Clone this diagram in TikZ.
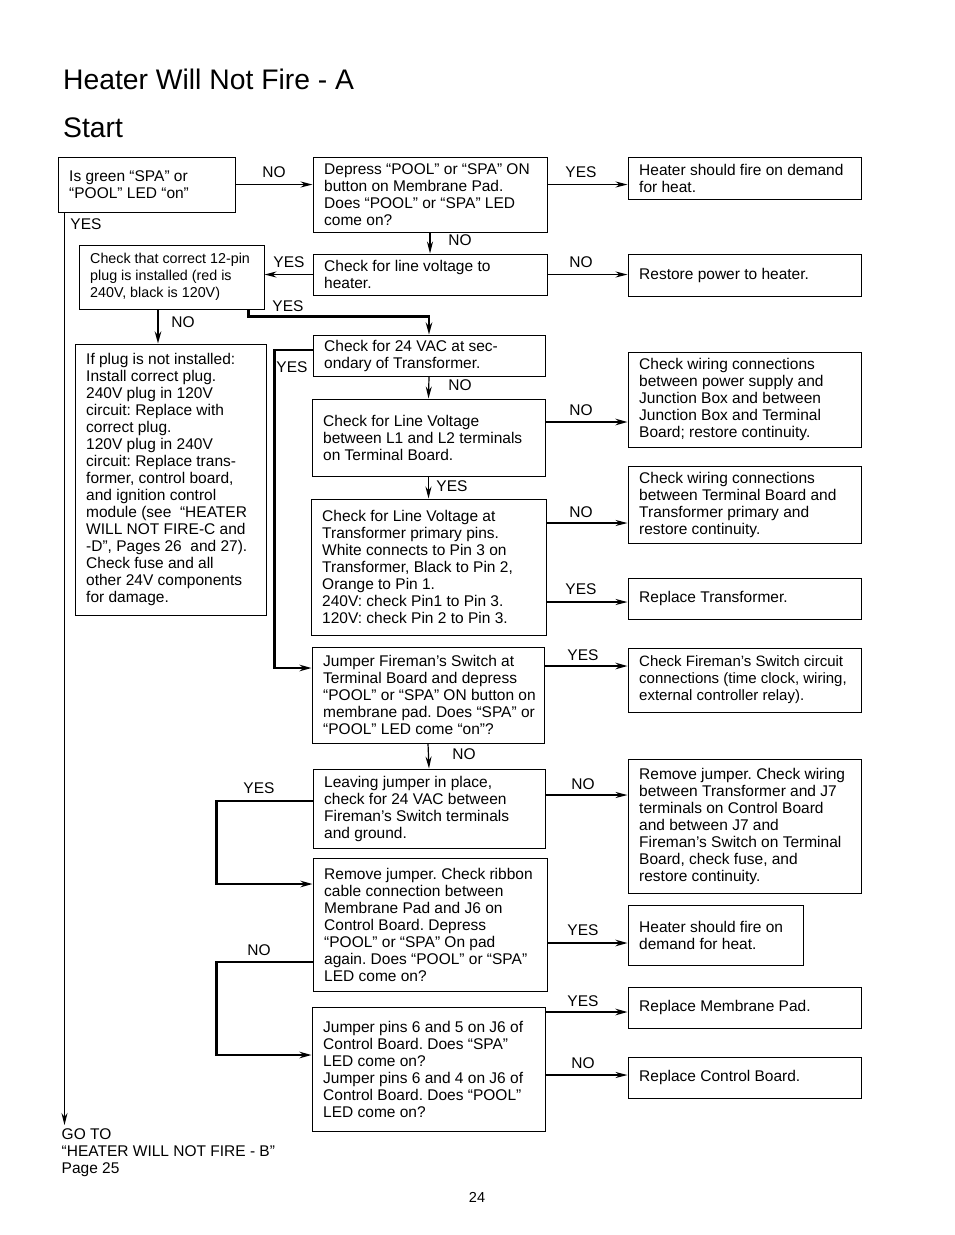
\documentclass[tikz,border=0pt]{standalone}
\usepackage{fontspec}
\setmainfont{Liberation Sans}
\usetikzlibrary{arrows.meta,calc}
\frenchspacing
\tikzset{
  box/.style={draw,line width=1pt,inner sep=0pt},
  txt/.style={align=left,inner sep=0pt,font=\fontsize{15.5}{17}\selectfont},
  lbl/.style={inner sep=0pt,font=\fontsize{15.5}{17}\selectfont},
  thinar/.style={line width=1.2pt,-{Stealth[length=12pt,width=6pt]}},
  thickar/.style={line width=2.4pt,-{Stealth[length=12pt,width=6.5pt]}},
}
% #1 text options, #2 name, #3 cx, #4 cy, #5 width, #6 height, #7 text
\newcommand\flowbox[7][]{%
  \node[box,minimum width=#5pt,minimum height=#6pt] (#2) at (#3,#4) {};
  \node[txt,anchor=west,#1] (#2t) at ([xshift=11.5pt]#2.west) {#7};}
\begin{document}
\begin{tikzpicture}[x=1pt,y=-1pt]
\fill[white] (0,0) rectangle (954,1235);
\useasboundingbox (0,0) rectangle (954,1235);

\node[anchor=base west,inner sep=0pt,font=\fontsize{28.3}{34}\selectfont] (title) at (63,89) {Heater Will Not Fire - A};
\node[anchor=base west,inner sep=0pt,font=\fontsize{28.3}{34}\selectfont] (start) at (63,137) {Start};

\flowbox{A}{146.5}{184.5}{177}{55}{Is green “SPA” or\\“POOL” LED “on”}
\flowbox{B}{430}{194.5}{234}{75}{Depress “POOL” or “SPA” ON\\button on Membrane Pad.\\Does “POOL” or “SPA” LED\\come on?}
\flowbox{C}{744.5}{178}{233}{42}{Heater should fire on demand\\for heat.}
\flowbox[font=\fontsize{14.3}{17}\selectfont]{D}{171.5}{277}{185}{64}{Check that correct 12-pin\\plug is installed (red is\\240V, black is 120V)}
\flowbox{E}{430}{274.5}{234}{41}{Check for line voltage to\\heater.}
\flowbox{F}{744.5}{275}{233}{42}{Restore power to heater.}
\flowbox{G}{170.5}{479.5}{191}{271}{If plug is not installed:\\Install correct plug.\\240V plug in 120V\\circuit: Replace with\\correct plug.\\120V plug in 240V\\circuit: Replace trans-\\former, control board,\\and ignition control\\module (see\ \ “HEATER\\WILL NOT FIRE-C and\\-D”, Pages 26\ \ and 27).\\Check fuse and all\\other 24V components\\for damage.}
\flowbox{H}{429}{355.5}{232}{41}{Check for 24 VAC at sec-\\ondary of Transformer.}
\flowbox{I}{428.5}{437.5}{233}{77}{Check for Line Voltage\\between L1 and L2 terminals\\on Terminal Board.}
\flowbox{J}{744.5}{399.5}{233}{95}{Check wiring connections\\between power supply and\\Junction Box and between\\Junction Box and Terminal\\Board; restore continuity.}
\flowbox{K}{428.5}{567}{235}{136}{Check for Line Voltage at\\Transformer primary pins.\\White connects to Pin 3 on\\Transformer, Black to Pin 2,\\Orange to Pin 1.\\240V: check Pin1 to Pin 3.\\120V: check Pin 2 to Pin 3.}
\flowbox{L}{744.5}{504.5}{233}{77}{Check wiring connections\\between Terminal Board and\\Transformer primary and\\restore continuity.}
\flowbox{M}{744.5}{598.5}{233}{41}{Replace Transformer.}
\flowbox{N}{428}{695}{232}{96}{Jumper Fireman’s Switch at\\Terminal Board and depress\\“POOL” or “SPA” ON button on\\membrane pad. Does “SPA” or\\“POOL” LED come “on”?}
\flowbox[font=\fontsize{15}{17}\selectfont]{O}{744.5}{680}{233}{64}{Check Fireman’s Switch circuit\\connections (time clock, wiring,\\external controller relay).}
\flowbox{P}{429}{808.5}{232}{79}{Leaving jumper in place,\\check for 24 VAC between\\Fireman’s Switch terminals\\and ground.}
\flowbox{Q}{744.5}{826}{233}{134}{Remove jumper. Check wiring\\between Transformer and J7\\terminals on Control Board\\and between J7 and\\Fireman’s Switch on Terminal\\Board, check fuse, and\\restore continuity.}
\flowbox{R}{430}{924.5}{234}{133}{Remove jumper. Check ribbon\\cable connection between\\Membrane Pad and J6 on\\Control Board. Depress\\“POOL” or “SPA” On pad\\again. Does “POOL” or “SPA”\\LED come on?}
\flowbox{S}{715.5}{935}{175}{60}{Heater should fire on\\demand for heat.}
\flowbox{T}{744.5}{1007.5}{233}{41}{Replace Membrane Pad.}
\flowbox{U}{428.5}{1069}{233}{124}{Jumper pins 6 and 5 on J6 of\\Control Board. Does “SPA”\\LED come on?\\Jumper pins 6 and 4 on J6 of\\Control Board. Does “POOL”\\LED come on?}
\flowbox{V}{744.5}{1077.5}{233}{41}{Replace Control Board.}

\node[txt,anchor=north west] (goto) at (61.5,1128) {GO TO\\“HEATER WILL NOT FIRE - B”\\Page 25};
\node[lbl,font=\fontsize{14.5}{17}\selectfont] (pg) at (477,1197) {24};

% connectors
\draw[thinar] (A.east) -- (A.east -| B.west);
\draw[thinar] (B.east |- A.east) -- (C.west |- A.east);
\draw[thinar] (B.south) -- (E.north);
\draw[thinar] (E.west) -- (E.west -| D.east);
\draw[thinar] (E.east) -- (E.east -| F.west);
\draw[thickar] ([xshift=-16pt]D.south east) -- ++(0,7) -| (H.north);
\draw[thickar] ([xshift=-13.5pt]D.south) -- ([xshift=-13.5pt]D.south |- G.north);
\draw[thinar] ([xshift=7pt]A.south west) -- ([xshift=7pt,yshift=3pt]A.south west |- goto.north);
\draw[thickar] (H.west |- 0,350) -- ++(-38,0) |- (N.west |- 0,668);
\draw[thinar] (H.south) -- (I.north);
\draw[thickar] (I.east |- 0,422) -- (J.west |- 0,422);
\draw[thinar] (I.south) -- (K.north);
\draw[thinar] (K.east |- 0,523) -- (L.west |- 0,523);
\draw[thinar] (K.east |- 0,602) -- (M.west |- 0,602);
\draw[thickar] (N.east |- 0,666) -- (O.west |- 0,666);
\draw[thinar] (N.south) -- (P.north);
\draw[thinar] (P.east |- 0,795) -- (Q.west |- 0,795);
\draw[thickar] (P.west |- 0,801) -- ++(-96,0) |- (R.west |- 0,884);
\draw[thickar] (R.east |- 0,943) -- (S.west |- 0,943);
\draw[thickar] (R.west |- 0,962) -- ++(-96,0) |- (U.west |- 0,1055);
\draw[thickar] (U.east |- 0,1012) -- (T.west |- 0,1012);
\draw[thinar] (U.east |- 0,1075) -- (V.west |- 0,1075);

% labels
\node[lbl] (l1) at (274,172) {NO};
\node[lbl] (l2) at (581,172) {YES};
\node[lbl] (l3) at (460,240) {NO};
\node[lbl] (l4) at (289,262) {YES};
\node[lbl] (l5) at (581,262) {NO};
\node[lbl] (l6) at (86,224) {YES};
\node[lbl] (l7) at (288,306) {YES};
\node[lbl] (l8) at (183,322) {NO};
\node[lbl] (l9) at (292,367) {YES};
\node[lbl] (l10) at (460,385) {NO};
\node[lbl] (l11) at (581,410) {NO};
\node[lbl] (l12) at (452,486) {YES};
\node[lbl] (l13) at (581,512) {NO};
\node[lbl] (l14) at (581,589) {YES};
\node[lbl] (l15) at (583,655) {YES};
\node[lbl] (l16) at (464,754) {NO};
\node[lbl] (l17) at (583,784) {NO};
\node[lbl] (l18) at (259,788) {YES};
\node[lbl] (l19) at (583,930) {YES};
\node[lbl] (l20) at (259,950) {NO};
\node[lbl] (l21) at (583,1001) {YES};
\node[lbl] (l22) at (583,1063) {NO};
\end{tikzpicture}
\end{document}
